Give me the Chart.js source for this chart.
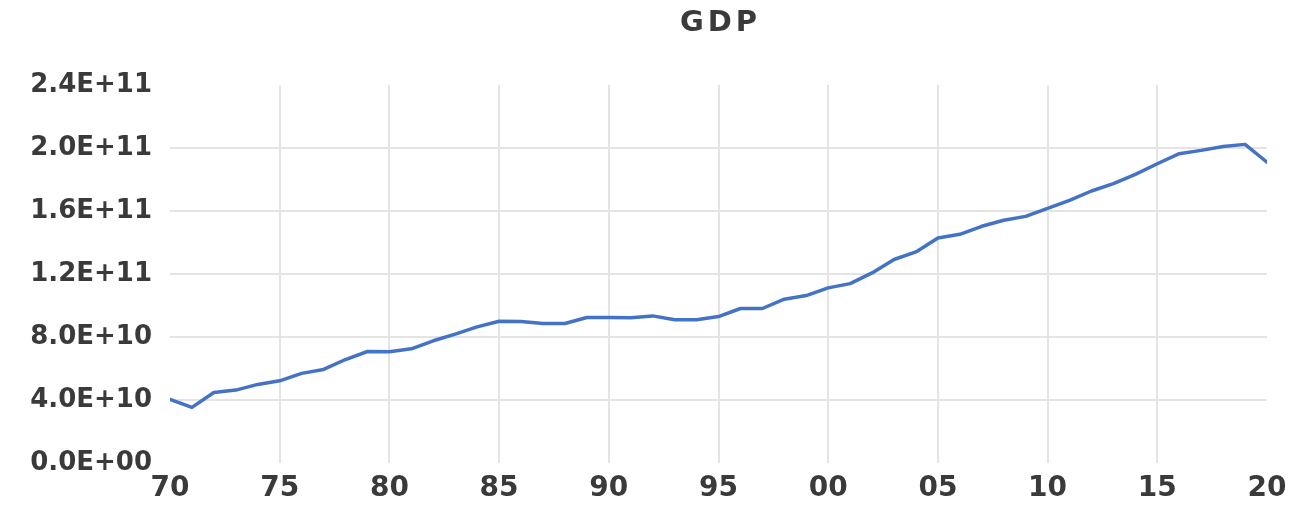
<!DOCTYPE html>
<html>
<head>
<meta charset="utf-8">
<script src="https://cdn.jsdelivr.net/npm/chart.js@4"></script>
<style>
  html, body { margin: 0; padding: 0; background: #ffffff; }
  #wrap { width: 1297px; height: 505px; position: relative; }
</style>
</head>
<body>
<div id="wrap"><canvas id="c" width="1297" height="505"></canvas></div>
<script>
const titleText = 'GDP';
const years = [
  1970,1971,1972,1973,1974,1975,1976,1977,1978,1979,
  1980,1981,1982,1983,1984,1985,1986,1987,1988,1989,
  1990,1991,1992,1993,1994,1995,1996,1997,1998,1999,
  2000,2001,2002,2003,2004,2005,2006,2007,2008,2009,
  2010,2011,2012,2013,2014,2015,2016,2017,2018,2019,2020
];
const gdp = [
  4.04e10,3.53e10,4.48e10,4.63e10,4.99e10,5.22e10,5.69e10,5.94e10,6.57e10,7.08e10,
  7.06e10,7.25e10,7.76e10,8.18e10,8.64e10,9.00e10,8.98e10,8.86e10,8.86e10,9.24e10,
  9.24e10,9.22e10,9.34e10,9.09e10,9.09e10,9.30e10,9.81e10,9.81e10,1.040e11,1.063e11,
  1.112e11,1.139e11,1.207e11,1.292e11,1.340e11,1.428e11,1.452e11,1.503e11,1.541e11,1.566e11,
  1.617e11,1.668e11,1.727e11,1.774e11,1.833e11,1.900e11,1.964e11,1.985e11,2.010e11,2.023e11,1.910e11
];
const yTicks = [0, 4e10, 8e10, 1.2e11, 1.6e11, 2.0e11, 2.4e11];

const TEXT = '#3a3a3a';
const GRID = '#e4e4e4';

const titlePlugin = {
  id: 'gdpTitle',
  afterDraw(chart) {
    const ctx = chart.ctx;
    const a = chart.chartArea;
    ctx.save();
    ctx.letterSpacing = '4px';
    ctx.font = 'bold 29px "DejaVu Sans"';
    ctx.fillStyle = TEXT;
    ctx.textAlign = 'center';
    ctx.textBaseline = 'middle';
    ctx.fillText(titleText, (a.left + a.right) / 2 + 2, 23);
    ctx.restore();
  }
};

new Chart(document.getElementById('c'), {
  type: 'line',
  data: {
    datasets: [{
      label: titleText,
      data: years.map((y, i) => ({ x: y, y: gdp[i] })),
      borderColor: '#4472C4',
      backgroundColor: '#4472C4',
      borderWidth: 3.5,
      pointRadius: 0,
      tension: 0,
      borderJoinStyle: 'round',
      borderCapStyle: 'round'
    }]
  },
  options: {
    responsive: false,
    animation: false,
    devicePixelRatio: 1,
    layout: { padding: { top: 85, right: 30, bottom: 0, left: 0 } },
    plugins: {
      legend: { display: false },
      title: { display: false },
      tooltip: { enabled: false }
    },
    scales: {
      x: {
        type: 'linear',
        min: 1970,
        max: 2020,
        afterFit(s) { s.height = 42; },
        border: { display: false },
        grid: {
          drawTicks: false,
          lineWidth: 2,
          color: c => (c.tick && (c.tick.value === 1970 || c.tick.value === 2020)) ? 'rgba(0,0,0,0)' : GRID
        },
        ticks: {
          stepSize: 5,
          padding: 9,
          color: TEXT,
          font: { family: 'DejaVu Sans', size: 28, weight: 'bold' },
          maxRotation: 0,
          callback: v => String(v % 100).padStart(2, '0')
        }
      },
      y: {
        min: 0,
        max: 2.4e11,
        afterFit(s) { s.width = 170; },
        afterBuildTicks(s) { s.ticks = yTicks.map(v => ({ value: v })); },
        border: { display: false },
        grid: {
          drawTicks: false,
          lineWidth: 2,
          color: c => (c.tick && (c.tick.value === 0 || c.tick.value === 2.4e11)) ? 'rgba(0,0,0,0)' : GRID
        },
        ticks: {
          padding: 18,
          color: TEXT,
          font: { family: 'DejaVu Sans', size: 26, weight: 'bold' },
          callback: v => {
            const e = Math.floor(Math.log10(Math.abs(v) || 1));
            const ex = v === 0 ? 0 : e;
            const m = v === 0 ? 0 : v / Math.pow(10, ex);
            return m.toFixed(1) + 'E+' + String(ex).padStart(2, '0');
          }
        }
      }
    }
  },
  plugins: [titlePlugin]
});
</script>
</body>
</html>
